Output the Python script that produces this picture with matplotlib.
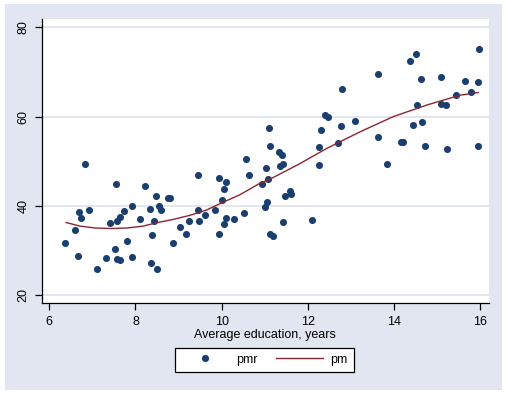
import matplotlib
matplotlib.use("Agg")
import matplotlib.pyplot as plt
from matplotlib.lines import Line2D

plt.rcParams['font.family'] = ['Liberation Sans', 'DejaVu Sans']

# Scatter data: pmr vs average education (years)
educ = [6.37, 6.59, 6.67, 6.69, 6.73, 6.84, 6.91, 7.11, 7.32, 7.42,
        7.52, 7.54, 7.58, 7.64, 7.58, 7.64, 7.74, 7.80, 7.91, 7.92,
        8.10, 8.23, 8.33, 8.37, 8.39, 8.42, 8.48, 8.50, 8.55, 8.60,
        8.75, 8.81, 8.87, 9.04, 9.17, 9.23, 9.46, 9.46, 9.47, 9.61,
        9.84, 9.93, 9.93, 10.00, 10.06, 10.09, 10.05, 10.09, 10.29, 10.51,
        10.56, 10.64, 10.93, 11.02, 11.08, 11.04, 11.00, 11.13, 11.20, 11.09,
        11.13, 11.32, 11.41, 11.36, 11.43, 11.43, 11.48, 11.59, 11.60, 12.09,
        12.26, 12.26, 12.30, 12.39, 12.46, 12.71, 12.78, 12.77, 13.10, 13.62,
        13.62, 13.83, 14.36, 14.50, 14.62, 14.52, 14.44, 14.64, 14.15, 14.21,
        14.71, 15.09, 15.09, 15.21, 15.23, 15.44, 15.64, 15.78, 15.96, 15.95,
        15.95]
pmr = [31.8, 34.7, 28.7, 38.6, 37.2, 49.4, 39.0, 25.8, 28.4, 36.1,
       30.4, 45.0, 28.1, 27.8, 36.6, 37.5, 38.9, 32.2, 40.0, 28.5,
       37.0, 44.5, 39.4, 27.3, 33.4, 36.6, 42.2, 26.0, 40.0, 39.1,
       41.7, 41.8, 31.8, 35.2, 33.7, 36.6, 47.0, 39.1, 36.6, 37.9,
       39.2, 46.3, 33.8, 41.3, 43.8, 45.3, 35.9, 37.2, 37.0, 38.4,
       50.5, 47.0, 44.9, 48.4, 46.0, 40.9, 39.8, 33.8, 33.2, 57.4,
       53.4, 52.1, 51.3, 48.9, 49.4, 36.3, 42.2, 43.3, 42.6, 36.9,
       49.1, 53.3, 57.0, 60.4, 60.0, 54.2, 66.3, 57.9, 59.0, 69.5,
       55.5, 49.3, 72.5, 74.1, 68.4, 62.7, 58.1, 58.8, 54.3, 54.3,
       53.4, 68.9, 62.8, 62.6, 52.8, 64.9, 68.0, 65.6, 75.1, 67.8,
       53.4]

# Fitted curve pm
fit_x = [6.39, 6.71, 7.06, 7.45, 7.80, 8.18, 8.49, 8.88, 9.26, 9.65,
         10.00, 10.42, 10.89, 11.12, 11.78, 12.44, 13.21, 13.98, 14.76,
         15.53, 15.95]
fit_y = [36.3, 35.5, 35.07, 34.95, 35.07, 35.5, 36.25, 37.0, 37.9, 39.1,
         40.7, 42.5, 45.1, 46.0, 49.3, 52.9, 56.6, 60.0, 62.6,
         64.8, 65.4]

xticks = [6, 8, 10, 12, 14, 16]
yticks = [20, 40, 60, 80]
xlabel = "Average education, years"
labels = ["pmr", "pm"]

navy = "#1A3F6F"
maroon = "#8B2530"
bg = "#E1E6F0"
grid = "#DDE1EC"

W, H = 505, 394
fig = plt.figure(figsize=(W / 100, H / 100), dpi=100)
fig.patch.set_facecolor("white")

bgax = fig.add_axes([5 / W, 4 / H, 497 / W, 386 / H], zorder=-5)
bgax.set_facecolor(bg)
bgax.set_xticks([])
bgax.set_yticks([])
for s in bgax.spines.values():
    s.set_visible(False)

ax = fig.add_axes([41.7 / W, (H - 303.3) / H, 447 / W, 284.3 / H], zorder=1)
ax.set_facecolor("white")
ax.set_xlim(5.824, 16.195)
ax.set_ylim(18.21, 81.86)

for y in yticks:
    ax.axhline(y, color=grid, lw=1.2, zorder=1)

ax.scatter(educ, pmr, s=26, color=navy, marker="o", linewidths=0, zorder=3)
ax.plot(fit_x, fit_y, color=maroon, lw=1.0, zorder=4)

ax.set_xticks(xticks)
ax.set_yticks(yticks)
ax.set_xticklabels([str(t) for t in xticks])
ax.set_yticklabels([str(t) for t in yticks], rotation=90, va="center")
ax.tick_params(axis="both", direction="out", length=5, width=0.9,
               labelsize=9, pad=4, color="black")
for s in ["top", "right"]:
    ax.spines[s].set_visible(False)
for s in ["left", "bottom"]:
    ax.spines[s].set_color("black")
    ax.spines[s].set_linewidth(0.9)

ax.set_xlabel(xlabel, fontsize=9, labelpad=1)

handles = [Line2D([], [], marker="o", color=navy, linestyle="none", markersize=5.2,
                  markeredgewidth=0),
           Line2D([], [], color=maroon, lw=1.0)]
leg = fig.legend(handles, labels, loc="center", bbox_to_anchor=(264.7 / W, 34.2 / H),
                 ncol=2, fontsize=9, frameon=True, fancybox=False, framealpha=1,
                 handlelength=3.8, handletextpad=0.6, columnspacing=1.4,
                 borderpad=0.5, borderaxespad=0)
leg.get_frame().set_edgecolor("black")
leg.get_frame().set_linewidth(0.9)
leg.get_frame().set_facecolor("white")

fig.savefig("out.png", dpi=100, facecolor=fig.get_facecolor())
